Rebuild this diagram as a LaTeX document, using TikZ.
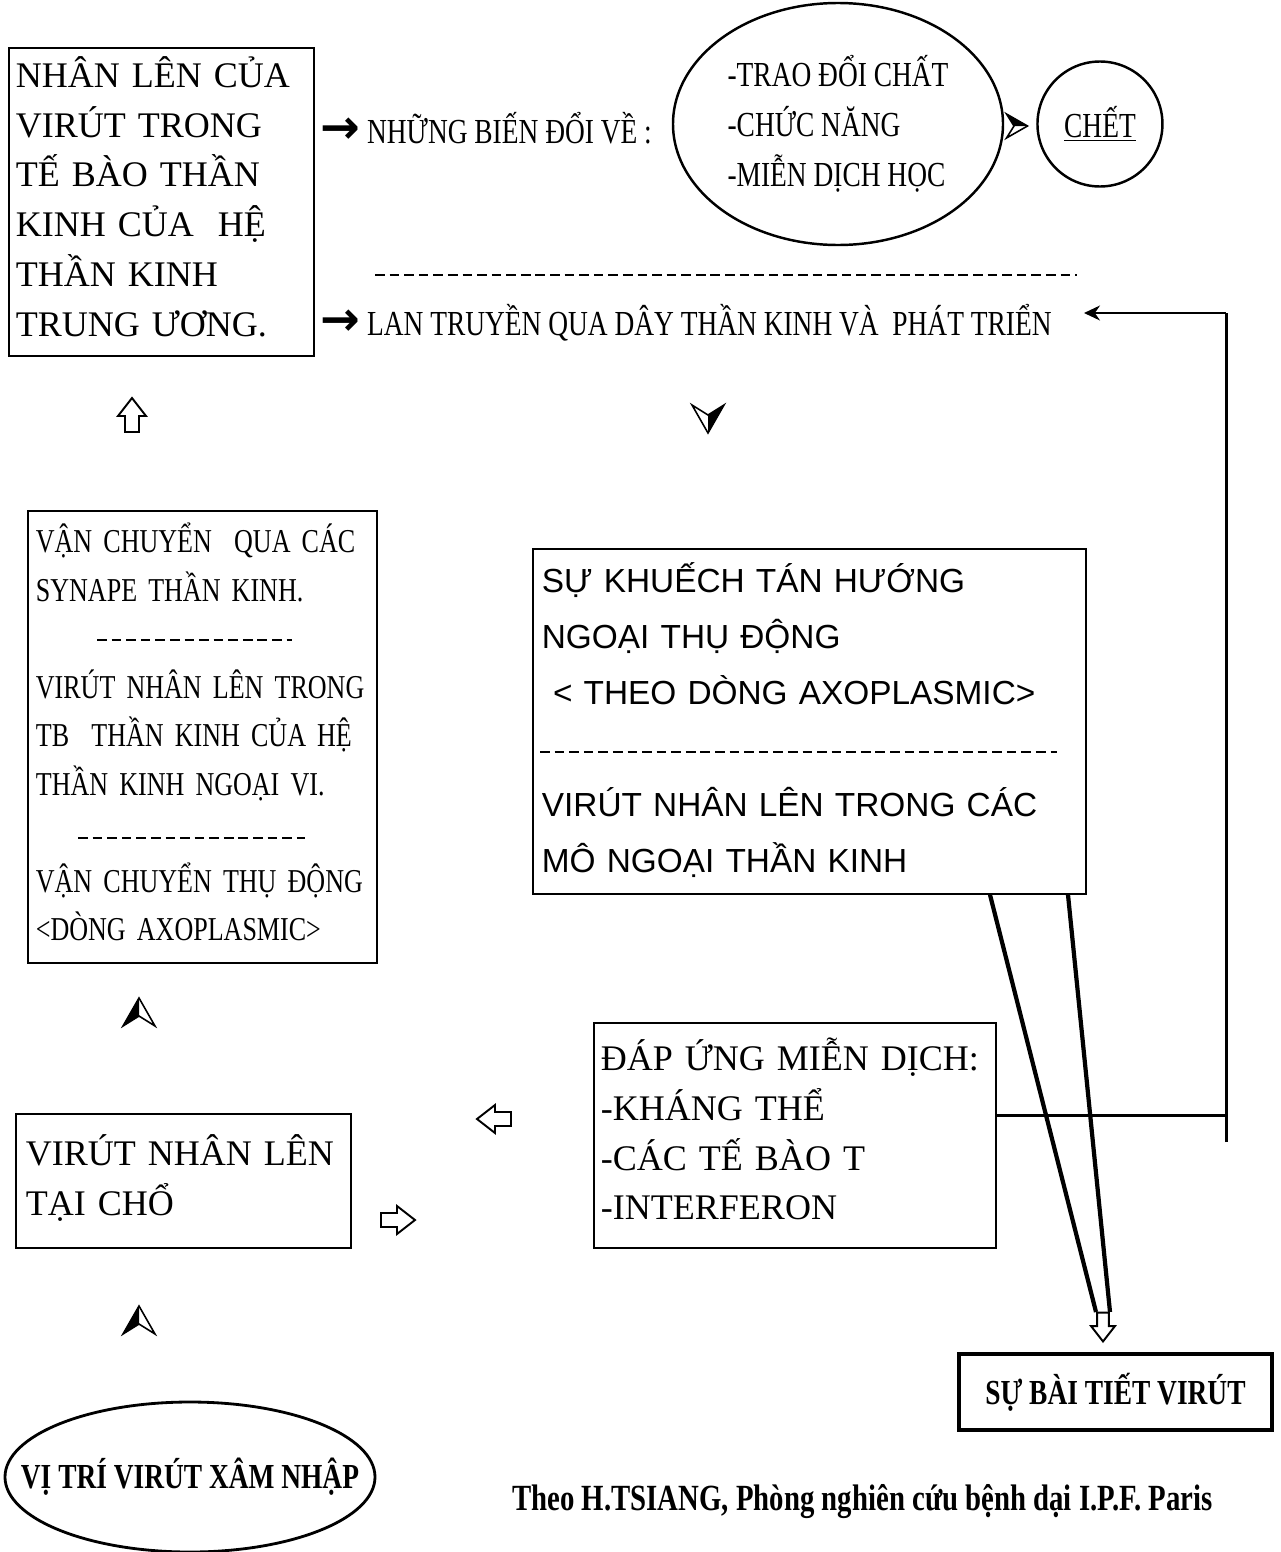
\documentclass[tikz,border=0pt]{standalone}
\usepackage{fontspec}
\setmainfont{Liberation Serif}
\newfontfamily\condfont[FakeStretch=0.78]{Liberation Serif}
\newfontfamily\gothfont{Liberation Sans}
\newfontfamily\arrowfont{DejaVu Sans}
\usetikzlibrary{positioning,shapes.geometric,arrows.meta,calc}

\newcommand{\bigarrow}{{\arrowfont\bfseries\fontsize{27}{20}\selectfont →}\hspace{4pt}}
\newcommand{\boxlines}[1]{\begin{tabular}{@{}l@{}}#1\end{tabular}}

\tikzset{
  box/.style={draw, line width=1pt, anchor=north west, align=left, inner ysep=0pt},
  bigserif/.style={font=\fontsize{20.5}{28.3}\selectfont},
  narrow/.style={font=\condfont\fontsize{20}{28.3}\selectfont},
  narrowbold/.style={font=\condfont\bfseries\fontsize{20}{24}\selectfont},
  sepline/.style={line width=1pt, dash pattern=on 5.5pt off 2.8pt},
  link/.style={line width=1.7pt},
  thickline/.style={line width=2.4pt},
  tipmark/.pic={
    \fill (0,-4) -- (16,-14) -- (0,14) -- cycle;
    \draw[line width=0.9pt, line join=miter] (0,14) -- (-16,-14) -- (0,-4) -- (16,-14) -- cycle;
  },
  blockarrow/.pic={
    \draw[line width=1.1pt, line join=miter] (-17,-7) -- (-1,-7) -- (-1,-14) -- (17,0) -- (-1,14) -- (-1,7) -- (-17,7) -- cycle;
  },
}

\begin{document}
\begin{tikzpicture}[x=0.2mm, y=-0.2mm]
  \useasboundingbox (0,0) rectangle (1281,1552);

  % top row
  \node[box, bigserif, inner xsep=1.4mm, text width=58.2mm, minimum width=61mm, minimum height=61.6mm] (nhanlen) at (8,47)
    {\boxlines{NHÂN LÊN CỦA\\VIRÚT TRONG\\TẾ BÀO THẦN\\KINH CỦA\ \ HỆ\\THẦN KINH\\TRUNG ƯƠNG.}};
  \node[narrow, anchor=west, inner sep=0pt] (nhung) at (320,128) {\bigarrow NHỮNG BIẾN ĐỔI VỀ :};
  \node[draw, ellipse, line width=1.4pt, narrow, align=left, minimum width=66mm, minimum height=48.4mm] (biendoi) at (838,124)
    {-TRAO ĐỔI CHẤT\\-CHỨC NĂNG\\-MIỄN DỊCH HỌC};
  \node[draw, circle, line width=1.4pt, narrow, minimum size=25mm, right=6.4mm of biendoi] (chet) {\underline{CHẾT}};
  \pic[rotate=90, scale=0.75] at (1017,126) {tipmark};

  \draw[sepline] (375,275) -- (1077,275);
  \node[narrow, anchor=west, inner sep=0pt] (lantruyen) at (320,323)
    {\bigarrow LAN TRUYỀN QUA DÂY THẦN KINH VÀ\ \ PHÁT TRIỂN};

  \pic[rotate=90] at (132,415) {blockarrow};
  \pic at (708,419) {tipmark};

  % middle row
  \node[box, font=\condfont\fontsize{19}{27.6}\selectfont, inner xsep=1.6mm, text width=66.6mm, minimum width=69.8mm, minimum height=90.4mm] (vanchuyen) at (27,510)
    {\boxlines{VẬN CHUYỂN\ \ QUA CÁC\\SYNAPE THẦN KINH.\\\\VIRÚT NHÂN LÊN TRONG\\TB\ \ THẦN KINH CỦA HỆ\\THẦN KINH NGOẠI VI.\\\\VẬN CHUYỂN THỤ ĐỘNG\\<DÒNG AXOPLASMIC>}};
  \draw[sepline] (97,640) -- (292,640);
  \draw[sepline] (78,838) -- (305,838);

  \node[box, font=\gothfont\fontsize{19}{31.9}\selectfont, inner xsep=1.8mm, text width=107mm, minimum width=110.6mm, minimum height=69mm] (khuech) at (532,548)
    {\boxlines{SỰ KHUẾCH TÁN HƯỚNG\\NGOẠI THỤ ĐỘNG\\\ < THEO DÒNG AXOPLASMIC>\\\\VIRÚT NHÂN LÊN TRONG CÁC\\MÔ NGOẠI THẦN KINH}};
  \draw[sepline] (540,752) -- (1057,752);

  \pic[rotate=180] at (139,1012) {tipmark};
  \pic[rotate=180] at (139,1320) {tipmark};

  % lower row
  \node[box, bigserif, inner xsep=1.4mm, text width=77.6mm, minimum width=80.4mm, minimum height=45mm] (dapung) at (593,1022)
    {\boxlines{ĐÁP ỨNG MIỄN DỊCH:\\-KHÁNG THỂ\\-CÁC TẾ BÀO T\\-INTERFERON}};
  \node[box, bigserif, inner xsep=2mm, text width=63mm, minimum width=67mm, minimum height=26.8mm] (taicho) at (15,1113)
    {\boxlines{VIRÚT NHÂN LÊN\\TẠI CHỔ}};
  \pic[rotate=180] at (494,1119) {blockarrow};
  \pic at (398,1220) {blockarrow};

  % feedback on the right
  \coordinate (j2) at (1226,1115);
  \coordinate (j3) at (1226,313);
  \coordinate (j4) at (1226,1142);
  \draw[link] (dapung.east |- j2) -- (j2);
  \draw[link] (j4) -- (j3);
  \draw[line width=1pt, -{Stealth[length=3.2mm, width=3mm]}] (j3) -- ($(j3 -| lantruyen.east)+(32,0)$);

  % excretion
  \coordinate (s1) at (1096,1312);
  \coordinate (s2) at (1110,1312);
  \draw[thickline] (khuech.south -| 990,0) -- (s1);
  \draw[thickline] (khuech.south -| 1068,0) -- (s2);
  \pic[rotate=-90, scale=0.85] at (1103,1327) {blockarrow};
  \node[box, narrowbold, line width=2.2pt, align=center, minimum width=62.6mm, minimum height=15.2mm] (baitiet) at (957,1352)
    {SỰ BÀI TIẾT VIRÚT};

  % bottom
  \node[narrowbold] (xamnhap) at (190,1477) {VỊ TRÍ VIRÚT XÂM NHẬP};
  \draw[line width=1.6pt] (xamnhap.center) ellipse [x radius=37mm, y radius=15mm];
  \node[font=\condfont\bfseries\fontsize{21}{24}\selectfont, anchor=west, inner sep=0pt] (nguon) at (512,1502)
    {Theo H.TSIANG, Phòng nghiên cứu bệnh dại I.P.F. Paris};
\end{tikzpicture}
\end{document}
